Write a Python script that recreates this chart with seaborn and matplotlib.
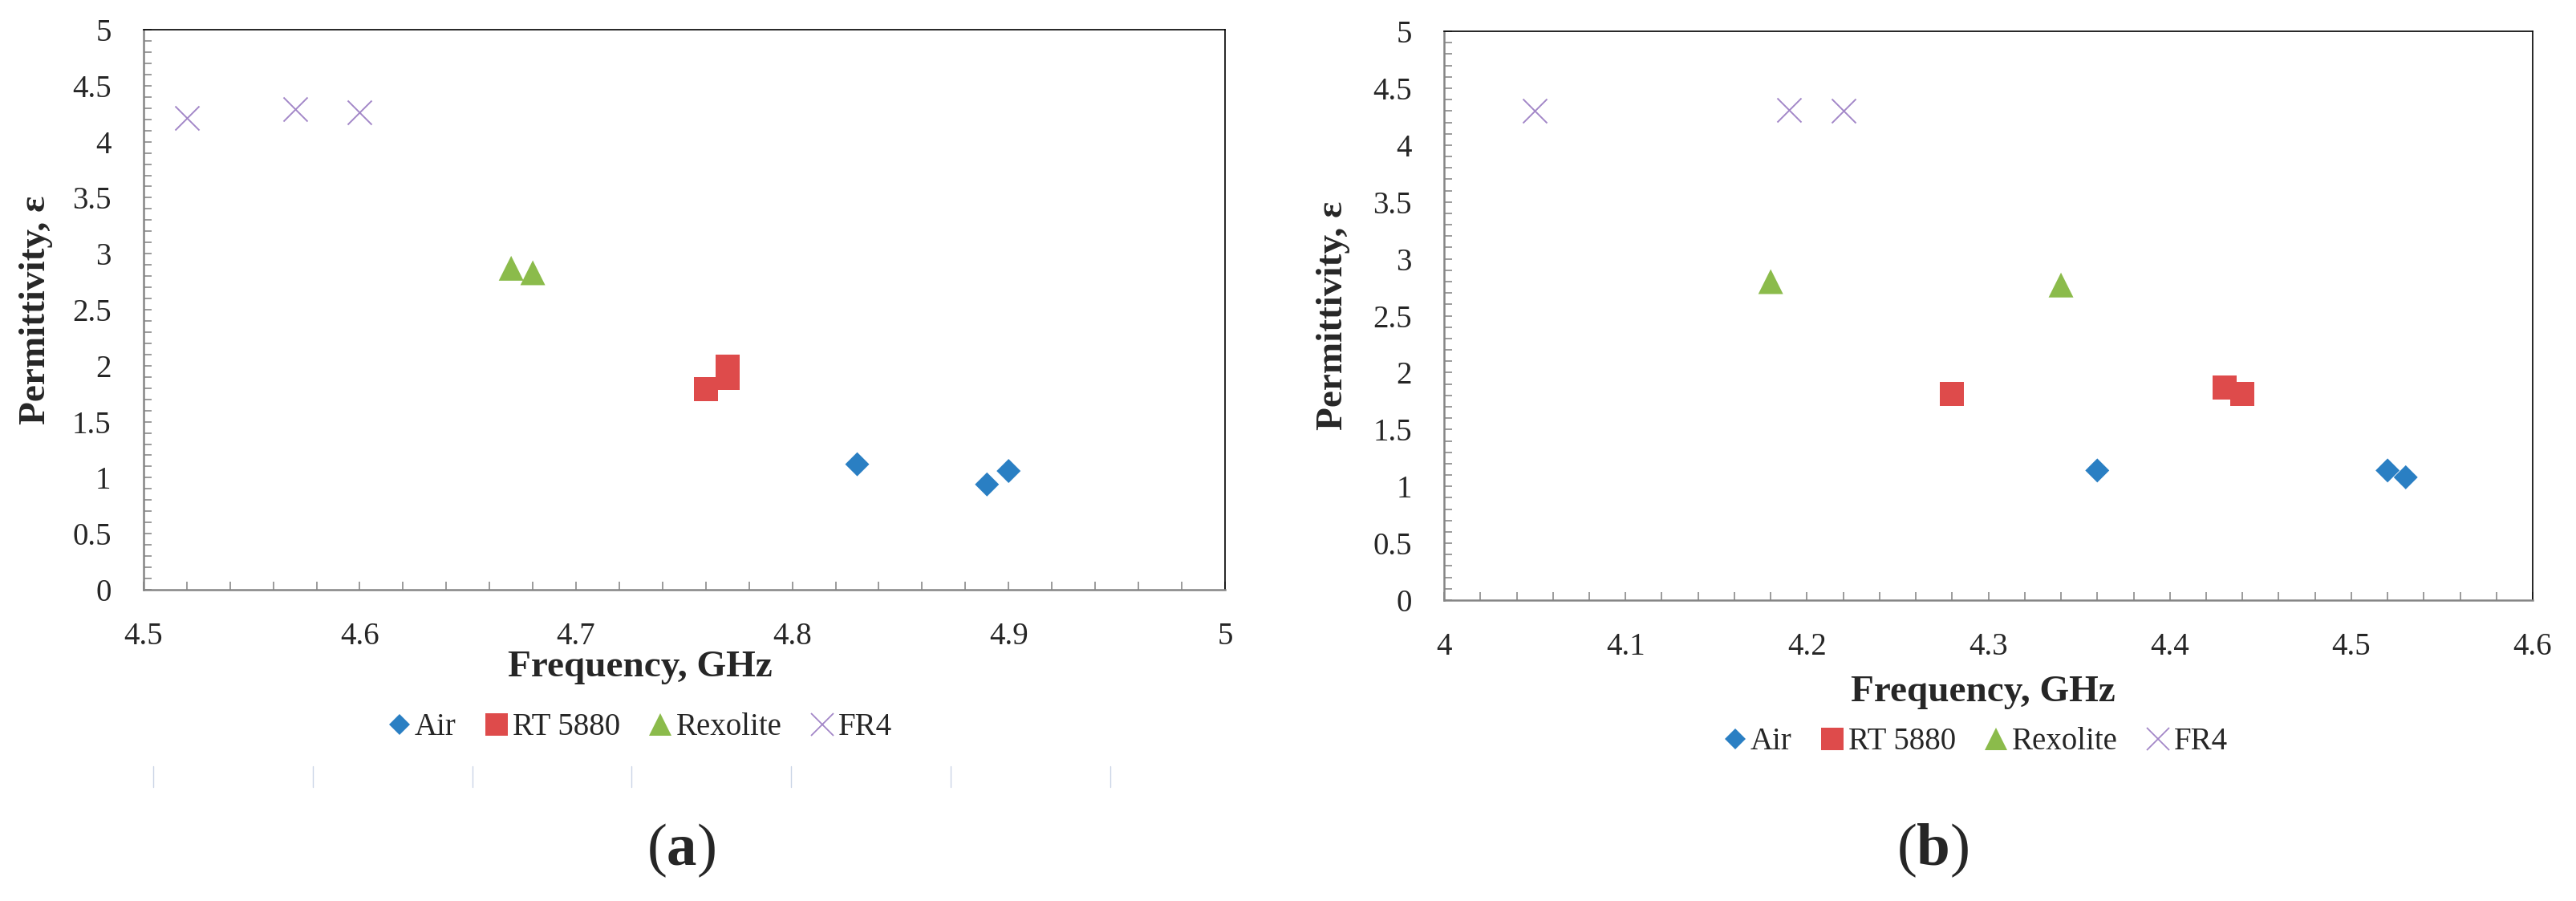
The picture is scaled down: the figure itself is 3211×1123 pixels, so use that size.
import pandas as pd
import seaborn as sns
import matplotlib.pyplot as plt
from matplotlib.lines import Line2D
from matplotlib.ticker import MultipleLocator, FuncFormatter

# Values (frequency in GHz, permittivity)
materials = ['Air', 'RT 5880', 'Rexolite', 'FR4']

a_air_f = [4.83, 4.89, 4.90]
a_air_e = [1.12, 0.94, 1.06]
a_rt_f = [4.76, 4.77, 4.77]
a_rt_e = [1.79, 1.99, 1.89]
a_rex_f = [4.67, 4.68]
a_rex_e = [2.87, 2.83]
a_fr4_f = [4.52, 4.57, 4.60]
a_fr4_e = [4.21, 4.29, 4.26]

b_air_f = [4.36, 4.52, 4.53]
b_air_e = [1.14, 1.14, 1.08]
b_rt_f = [4.28, 4.43, 4.44]
b_rt_e = [1.81, 1.87, 1.81]
b_rex_f = [4.18, 4.34]
b_rex_e = [2.80, 2.77]
b_fr4_f = [4.05, 4.19, 4.22]
b_fr4_e = [4.30, 4.31, 4.30]

x_ranges = {'a': (4.5, 5.0), 'b': (4.0, 4.6)}

colors = {'Air': '#2A7FC3', 'RT 5880': '#DE4B4B', 'Rexolite': '#8BBB4B', 'FR4': '#A387C8'}
markers = {'Air': 'D', 'RT 5880': 's', 'Rexolite': '^', 'FR4': 'x'}
sizes = {'Air': 233, 'RT 5880': 467, 'Rexolite': 497, 'FR4': 467}


def make_frame(panel, groups):
    rows = []
    for mat, (fs, es) in zip(materials, groups):
        for f, e in zip(fs, es):
            rows.append({'panel': panel, 'Material': mat, 'Frequency': f, 'Permittivity': e})
    return pd.DataFrame(rows)


data = pd.concat([
    make_frame('a', [(a_air_f, a_air_e), (a_rt_f, a_rt_e), (a_rex_f, a_rex_e), (a_fr4_f, a_fr4_e)]),
    make_frame('b', [(b_air_f, b_air_e), (b_rt_f, b_rt_e), (b_rex_f, b_rex_e), (b_fr4_f, b_fr4_e)]),
], ignore_index=True)

sns.set_style('white')
plt.rcParams['font.family'] = ['Liberation Serif', 'DejaVu Serif']
plt.rcParams['mathtext.fontset'] = 'custom'
plt.rcParams['mathtext.rm'] = 'Liberation Serif'
plt.rcParams['mathtext.bf'] = 'Liberation Serif:bold'

fig = plt.figure(figsize=(32.11, 11.23), dpi=100)
ax_a = fig.add_axes([0.0557, 0.3455, 0.4198, 0.6215])
ax_b = fig.add_axes([0.5606, 0.3339, 0.4226, 0.6313])

# label placement per panel: (xlabel x, xlabel y, ylabel x)
label_pos = {'a': (0.459, -0.139, -0.099), 'b': (0.495, -0.162, -0.102)}

for panel, ax in [('a', ax_a), ('b', ax_b)]:
    sub = data[data['panel'] == panel]
    for mat in materials:
        part = sub[sub['Material'] == mat]
        if markers[mat] == 'x':
            sns.scatterplot(data=part, x='Frequency', y='Permittivity', ax=ax,
                            marker='x', color=colors[mat], s=sizes[mat], linewidth=1.4)
        else:
            sns.scatterplot(data=part, x='Frequency', y='Permittivity', ax=ax,
                            marker=markers[mat], color=colors[mat], s=sizes[mat],
                            edgecolor='none', linewidth=0)

    ax.set_xlim(*x_ranges[panel])
    ax.set_ylim(0, 5)
    ax.xaxis.set_major_locator(MultipleLocator(0.1))
    ax.xaxis.set_minor_locator(MultipleLocator(0.02))
    ax.yaxis.set_major_locator(MultipleLocator(0.5))
    ax.yaxis.set_minor_locator(MultipleLocator(0.1))
    fmt = FuncFormatter(lambda v, p: f'{v:g}')
    ax.xaxis.set_major_formatter(fmt)
    ax.yaxis.set_major_formatter(fmt)
    ax.tick_params(which='both', direction='in', length=7.2, width=1.1, color='#808080',
                   top=False, right=False, bottom=True, left=True)
    ax.tick_params(which='major', labelsize=28, pad=29)

    for side in ['top', 'right']:
        ax.spines[side].set_color('black')
        ax.spines[side].set_linewidth(1.2)
    for side in ['left', 'bottom']:
        ax.spines[side].set_color('#858585')
        ax.spines[side].set_linewidth(1.8)

    lx, ly, yx = label_pos[panel]
    ax.set_xlabel('Frequency, GHz', fontsize=34, fontweight='bold')
    ax.set_ylabel('Permittivity, ε', fontsize=34, fontweight='bold')
    ax.xaxis.label.set_va('center')
    ax.yaxis.label.set_va('center')
    ax.xaxis.set_label_coords(lx, ly)
    ax.yaxis.set_label_coords(yx, 0.5)

# legends below each panel
handles = [Line2D([], [], linestyle='none', marker=markers[m], color=colors[m],
                  markersize=(sizes[m] ** 0.5) * 0.9,
                  markeredgewidth=1.3 if markers[m] == 'x' else 0)
           for m in materials]
for anchor in [(797 / 3211, 1 - 907 / 1123), (2462 / 3211, 1 - 925 / 1123)]:
    fig.legend(handles, materials, loc='center', bbox_to_anchor=anchor, ncol=4,
               frameon=False, fontsize=28, handlelength=0.8, handletextpad=0.1,
               columnspacing=0.9)

# faint leftover tick marks under panel (a)
for px in [191, 390, 589, 787, 986, 1185, 1384]:
    fig.add_artist(Line2D([px / 3211, px / 3211], [1 - 955 / 1123, 1 - 981 / 1123],
                          transform=fig.transFigure, color='#CBD5E6', linewidth=1.0))

fig.text(849 / 3211, 1 - 1060 / 1123, r'$\mathrm{(}\mathbf{a}\mathrm{)}$',
         fontsize=54, ha='center', va='center')
fig.text(2409 / 3211, 1 - 1060 / 1123, r'$\mathrm{(}\mathbf{b}\mathrm{)}$',
         fontsize=54, ha='center', va='center')

fig.savefig('out.png', dpi=100)
